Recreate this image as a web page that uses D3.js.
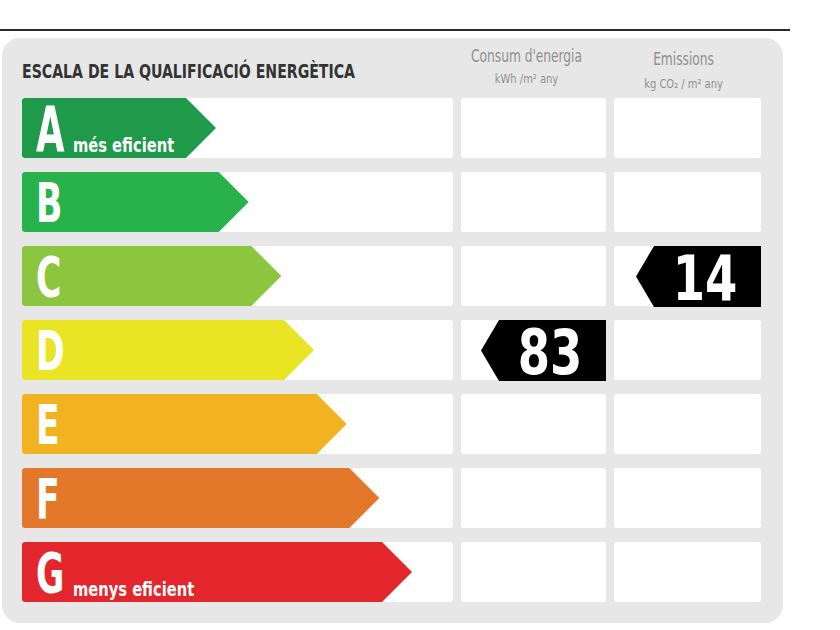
<!DOCTYPE html>
<html>
<head>
<meta charset="utf-8">
<script src="https://cdn.jsdelivr.net/npm/d3@7"></script>
<style>
  body { margin: 0; background: #fff; }
  svg { display: block; }
</style>
</head>
<body>
<div id="chart"></div>
<script>
// energy classes, top (best) to bottom (worst)
const classes = ["A", "B", "C", "D", "E", "F", "G"];
const classColors = ["#1f9a4b", "#28b24b", "#8cc63f", "#e9e424", "#f1b31f", "#e4782a", "#e3262b"];
const classNotes = ["més eficient", "", "", "", "", "", "menys eficient"];

// the two indicator columns
const indicators = ["Consum d'energia", "Emissions"];
const indicatorUnits = ["kWh /m² any", "kg CO₂ / m² any"];
const indicatorValues = [83, 14];
const indicatorClasses = ["D", "C"];

const title = "ESCALA DE LA QUALIFICACIÓ ENERGÈTICA";

const W = 840, H = 630;
const narrow = "'Liberation Sans Narrow', 'DejaVu Sans Condensed', 'Arial Narrow', sans-serif";

const svg = d3.select("#chart").append("svg")
  .attr("width", W)
  .attr("height", H);

// text squeezed horizontally, the label font is a very narrow one
function squeezed(parent, x, y, sx) {
  return parent.append("text")
    .attr("transform", "translate(" + x + "," + y + ") scale(" + sx + ",1)")
    .attr("font-family", narrow);
}

// top rule
svg.append("line")
  .attr("x1", 0).attr("x2", 790)
  .attr("y1", 30).attr("y2", 30)
  .attr("stroke", "#2b2b2b")
  .attr("stroke-width", 2);

// grey panel
svg.append("rect")
  .attr("x", 2).attr("y", 38)
  .attr("width", 781).attr("height", 585)
  .attr("rx", 18)
  .attr("fill", "#e7e7e7");

// rows
let y = d3.scaleBand()
  .domain(classes)
  .range([98, 602])
  .paddingInner(14 / 74)
  .paddingOuter(0);

// arrow tip position grows with the class index
let tip = d3.scaleLinear()
  .domain([0, classes.length - 1])
  .range([216, 412]);

// columns: scale area + the two indicator columns
let colX = [22, 461, 614];
let colW = [431, 145, 147];

// white cells
classes.forEach(function(c) {
  for (let j = 0; j < 3; j++) {
    svg.append("rect")
      .attr("x", colX[j]).attr("y", y(c))
      .attr("width", colW[j]).attr("height", y.bandwidth())
      .attr("rx", 3)
      .attr("fill", "#ffffff");
  }
});

// title
svg.append("text")
  .attr("x", 22).attr("y", 78)
  .attr("font-family", narrow)
  .attr("font-weight", "bold")
  .attr("font-size", 19)
  .attr("fill", "#333")
  .attr("textLength", 333)
  .attr("lengthAdjust", "spacingAndGlyphs")
  .text(title);

// column headers
let headCx = [colX[1] + colW[1] / 2 - 7, colX[2] + colW[2] / 2 - 4];
let headY = [[62, 83], [65, 88]];
for (let j = 0; j < indicators.length; j++) {
  squeezed(svg, headCx[j], headY[j][0], 0.8)
    .attr("text-anchor", "middle")
    .attr("font-size", 17)
    .attr("font-weight", 200)
    .attr("fill", "#8f8f8f")
    .text(indicators[j]);
  squeezed(svg, headCx[j], headY[j][1], 0.85)
    .attr("text-anchor", "middle")
    .attr("font-size", 13)
    .attr("font-weight", 200)
    .attr("fill", "#8f8f8f")
    .text(indicatorUnits[j]);
}

// class arrows
function arrowPath(x0, y0, x1, h, d) {
  let r = 3;
  return "M" + (x0 + r) + "," + y0 +
    " L" + (x1 - d) + "," + y0 +
    " L" + x1 + "," + (y0 + h / 2) +
    " L" + (x1 - d) + "," + (y0 + h) +
    " L" + (x0 + r) + "," + (y0 + h) +
    " Q" + x0 + "," + (y0 + h) + " " + x0 + "," + (y0 + h - r) +
    " L" + x0 + "," + (y0 + r) +
    " Q" + x0 + "," + y0 + " " + (x0 + r) + "," + y0 + " Z";
}

classes.forEach(function(c, i) {
  let g = svg.append("g").attr("class", "cls");
  g.append("path")
    .attr("d", arrowPath(22, y(c), tip(i), y.bandwidth(), 30))
    .attr("fill", classColors[i]);

  squeezed(g, 36, y(c) + (i == 0 ? 53 : 50), i == 0 ? 0.66 : 0.7)
    .attr("font-weight", "bold")
    .attr("font-size", i == 0 ? 62 : 55)
    .attr("fill", "#fff")
    .text(c);

  if (classNotes[i] != "") {
    squeezed(g, 73, y(c) + 54, 0.86)
      .attr("font-weight", "bold")
      .attr("font-size", 19)
      .attr("fill", "#fff")
      .text(classNotes[i]);
  }
});

// black value markers
for (let j = 0; j < indicatorValues.length; j++) {
  let c = indicatorClasses[j];
  let right = colX[j + 1] + colW[j + 1];
  let left = right - 125;
  let y0 = y(c), h = y.bandwidth() + 1;
  let p = "M" + left + "," + (y0 + h / 2) +
    " L" + (left + 18) + "," + y0 +
    " L" + right + "," + y0 +
    " L" + right + "," + (y0 + h) +
    " L" + (left + 18) + "," + (y0 + h) + " Z";
  svg.append("path").attr("d", p).attr("fill", "#000");
  squeezed(svg, right - 56, y0 + 54, 0.82)
    .attr("text-anchor", "middle")
    .attr("font-weight", "bold")
    .attr("font-size", 63)
    .attr("fill", "#fff")
    .text(indicatorValues[j]);
}
</script>
</body>
</html>
